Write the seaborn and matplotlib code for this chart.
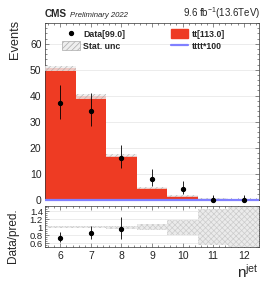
import matplotlib
matplotlib.use("Agg")
import matplotlib.pyplot as plt
from matplotlib.ticker import MultipleLocator, FixedLocator, FixedFormatter
from matplotlib.lines import Line2D
from matplotlib.patches import Patch
import numpy as np
import pandas as pd
import seaborn as sns

# ---- values ----
n_jet = [6, 7, 8, 9, 10, 11, 12]
tt_yield = [50.5, 39.8, 16.9, 4.5, 1.3, 0.3, 0.1]
tttt_x100 = [0.0, 0.0, 0.0, 0.0, 0.0, 0.0, 0.0]
data_yield = [37, 34, 16, 8, 4, 0, 0]
data_err_lo = [6.0, 5.8, 4.0, 2.8, 1.9, 0.0, 0.0]
data_err_hi = [7.1, 6.9, 5.1, 3.9, 3.2, 1.8, 1.8]
stat_rel_unc = [0.02, 0.025, 0.035, 0.08, 0.19, 0.45, 0.5]

RED = "#ee3b23"
BLUE = "#8080ff"

sns.set_theme(style="ticks")
plt.rcParams["font.family"] = ["Liberation Sans", "DejaVu Sans"]
plt.rcParams["mathtext.fontset"] = "custom"
plt.rcParams["mathtext.rm"] = "Liberation Sans"
plt.rcParams["mathtext.it"] = "Liberation Sans:italic"
plt.rcParams["mathtext.bf"] = "Liberation Sans:bold"
plt.rcParams["hatch.linewidth"] = 0.5
plt.rcParams["axes.grid"] = False

df = pd.DataFrame({"njet": n_jet, "tt": tt_yield, "tttt": tttt_x100,
                   "data": data_yield, "lo": data_err_lo, "hi": data_err_hi,
                   "rel": stat_rel_unc})
edges = np.arange(5.5, 13.0, 1.0)

fig = plt.figure(figsize=(2.61, 2.84), dpi=100)
W, H = 261.0, 284.0
ax = fig.add_axes([45 / W, 1 - 199.5 / H, 214 / W, 176.5 / H])
rax = fig.add_axes([45 / W, 1 - 247 / H, 214 / W, 41.5 / H])

# main panel
sns.histplot(data=df, x="njet", weights="tt", binwidth=1,
             binrange=(5.5, 12.5), color=RED, alpha=1, linewidth=0,
             ax=ax, zorder=2)
unc = df["tt"] * df["rel"]
ax.stairs(df["tt"] + unc, edges, baseline=df["tt"] - unc, fill=True,
          facecolor="#eeeeee", edgecolor="#aaaaaa", hatch="//////",
          linewidth=0, zorder=3, alpha=0.8)
ax.stairs(df["tttt"], edges, color=BLUE, linewidth=1.6, zorder=4,
          clip_on=False)
ax.errorbar(df["njet"], df["data"], yerr=[df["lo"], df["hi"]], fmt="o",
            color="black", markersize=2.8, elinewidth=0.6, capsize=0,
            zorder=5, clip_on=False)

ax.set_xlim(5.5, 12.5)
ax.set_ylim(0, 68)
ax.set_xlabel("")
ax.set_ylabel("")
ax.yaxis.set_major_locator(MultipleLocator(10))
ax.yaxis.set_minor_locator(MultipleLocator(2))
ax.xaxis.set_major_locator(MultipleLocator(1))
ax.xaxis.set_minor_locator(MultipleLocator(0.2))
ax.tick_params(labelbottom=False)

# ratio panel: points outside the frame are not drawn
rdf = df.assign(ratio=df["data"] / df["tt"],
                rlo=df["lo"] / df["tt"], rhi=df["hi"] / df["tt"])
rdf = rdf[(rdf["ratio"] > 0.5) & (rdf["ratio"] < 1.55)]
rax.stairs(1 + df["rel"], edges, baseline=1 - df["rel"], fill=True,
           facecolor="#ebebeb", edgecolor="#cccccc", hatch="xxxxxx",
           linewidth=0, zorder=2)
rax.errorbar(rdf["njet"], rdf["ratio"], yerr=[rdf["rlo"], rdf["rhi"]],
             fmt="o", color="black", markersize=2.8, elinewidth=0.6,
             capsize=0, zorder=5)
rax.set_xlim(5.5, 12.5)
rax.set_ylim(0.5, 1.55)
rax.xaxis.set_major_locator(MultipleLocator(1))
rax.xaxis.set_minor_locator(MultipleLocator(0.2))
rticks = [0.6, 0.8, 1.0, 1.2, 1.4]
rax.yaxis.set_major_locator(FixedLocator(rticks))
rax.yaxis.set_major_formatter(FixedFormatter(["0.6", "0.8", "1", "1.2", "1.4"]))
rax.yaxis.set_minor_locator(MultipleLocator(0.05))

for a in (ax, rax):
    a.grid(False)
    a.yaxis.grid(True, which="major", linestyle=(0, (1.2, 1.2)),
                 color="#d4d4d4", linewidth=0.6)
    a.set_axisbelow(True)
    for s in a.spines.values():
        s.set_linewidth(0.5)
        s.set_color("#333333")
    a.tick_params(which="both", direction="in", top=True, right=True,
                  width=0.4, colors="#333333", labelcolor="#222222")
    a.tick_params(which="major", length=2.6, pad=2.5)
    a.tick_params(which="minor", length=1.3)
ax.tick_params(axis="y", labelsize=7.5)
rax.tick_params(axis="y", labelsize=6.8, pad=1.5)
rax.tick_params(axis="x", labelsize=7.5, pad=3)

# legend
handles = [
    Line2D([], [], marker="o", color="black", linestyle="none", markersize=2.8),
    Patch(facecolor="#eeeeee", edgecolor="#aaaaaa", hatch="//////", linewidth=0.5),
    Patch(facecolor=RED, edgecolor=RED),
    Line2D([], [], color=BLUE, linewidth=1.6),
]
labels = ["Data[99.0]", "Stat. unc", "tt[113.0]", "tttt*100"]
ax.legend(handles, labels, ncol=2, loc="upper left",
          bbox_to_anchor=(0.065, 0.985), frameon=False,
          prop={"weight": "bold", "size": 6.3}, handlelength=2.0,
          handleheight=1.2, handletextpad=0.4, columnspacing=5.2,
          labelspacing=0.3, borderaxespad=0)

# header and axis labels
fig.text(45 / W, 1 - 17 / H, "CMS", fontsize=7.2, fontweight="bold",
         ha="left", va="baseline")
fig.text(70 / W, 1 - 17 / H, "Preliminary 2022", fontsize=5.6,
         fontstyle="italic", ha="left", va="baseline")
fig.text(260 / W, 1 - 17 / H, r"9.6 fb$^{-1}$(13.6TeV)", fontsize=7,
         ha="right", va="baseline")
fig.text(15 / W, 1 - 20 / H, "Events", fontsize=9.2, rotation=90,
         ha="center", va="top")
fig.text(13 / W, 1 - 236 / H, "Data/pred.", fontsize=8.5, rotation=90,
         ha="center", va="center")
fig.text(259 / W, 1 - 278 / H, r"n$^{\rm jet}$", fontsize=11,
         ha="right", va="baseline")

fig.savefig("out.png", dpi=100)
